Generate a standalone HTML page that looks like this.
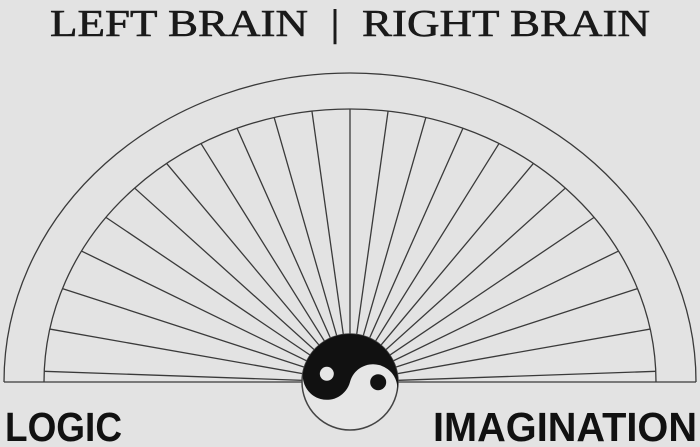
<!DOCTYPE html>
<html><head><meta charset="utf-8"><style>
html,body{margin:0;padding:0;background:#e3e3e3;}
svg{display:block;}
</style></head><body>
<svg id="chart" width="700" height="447" viewBox="0 0 700 447" xmlns="http://www.w3.org/2000/svg">
<rect width="700" height="447" fill="#e3e3e3"/>
<text x="50" y="36" font-family="'Liberation Serif',serif" font-size="38" fill="#1a1a1a" textLength="600" lengthAdjust="spacingAndGlyphs" stroke="#1a1a1a" stroke-width="0.6">LEFT BRAIN &#160;|&#160; RIGHT BRAIN</text>
<g id="fan"></g>
<text x="5" y="441" font-family="'Liberation Sans',sans-serif" font-weight="bold" font-size="41" fill="#111" textLength="117" lengthAdjust="spacingAndGlyphs">LOGIC</text>
<text x="433" y="441" font-family="'Liberation Sans',sans-serif" font-weight="bold" font-size="41" fill="#111" textLength="264" lengthAdjust="spacingAndGlyphs">IMAGINATION</text>
</svg>
<script>
const rayAngles = [2,10,18,26,34,42,50,58,66,74,82,90,98,106,114,122,130,138,146,154,162,170,178];
const cx = 350, cy = 382;
const outerRx = 346, outerRy = 309, innerRx = 306, innerRy = 273, yyR = 48;
const NS = 'http://www.w3.org/2000/svg';
const g = document.getElementById('fan');
function mk(tag, attrs){const e=document.createElementNS(NS,tag);for(const k in attrs)e.setAttribute(k,attrs[k]);g.appendChild(e);return e;}
const st = {fill:'none',stroke:'#3a3a3a','stroke-width':1.3};
let e = mk('path', Object.assign({d:`M${cx-outerRx},${cy} A${outerRx},${outerRy} 0 0 1 ${cx+outerRx},${cy}`},st));


e = mk('path', Object.assign({d:`M${cx-innerRx},${cy} A${innerRx},${innerRy} 0 0 1 ${cx+innerRx},${cy}`},st));


e = mk('line', Object.assign({x1:cx-outerRx,y1:cy,x2:cx+outerRx,y2:cy},st));


// rays: intersect direction with inner ellipse
rayAngles.forEach(a=>{
  const t=a*Math.PI/180, dx=Math.cos(t), dy=-Math.sin(t);
  const s=1/Math.sqrt((dx*dx)/(innerRx*innerRx)+(dy*dy)/(innerRy*innerRy));
  const r = mk('line', Object.assign({x1:cx,y1:cy,x2:cx+dx*s,y2:cy+dy*s},st));
  
  
});
// yin yang
const ang=15*Math.PI/180, ux=Math.cos(ang), uy=Math.sin(ang), R=yyR;
e = mk('circle',{cx:cx,cy:cy,r:R,fill:'#e6e6e6',stroke:'#444','stroke-width':1.5});


const Lx=cx-R*ux, Ly=cy-R*uy, Rx=cx+R*ux, Ry=cy+R*uy;
e = mk('path',{d:`M${Lx},${Ly} A${R},${R} 0 0 1 ${Rx},${Ry} A${R/2},${R/2} 0 0 0 ${cx},${cy} A${R/2},${R/2} 0 0 1 ${Lx},${Ly} Z`,fill:'#111'});


e = mk('circle',{cx:cx-R/2*ux,cy:cy-R/2*uy-2,r:7,fill:'#e6e6e6'});


e = mk('circle',{cx:cx+R/2*ux+5,cy:cy+R/2*uy-6,r:8,fill:'#111'});


</script>
</body></html>
